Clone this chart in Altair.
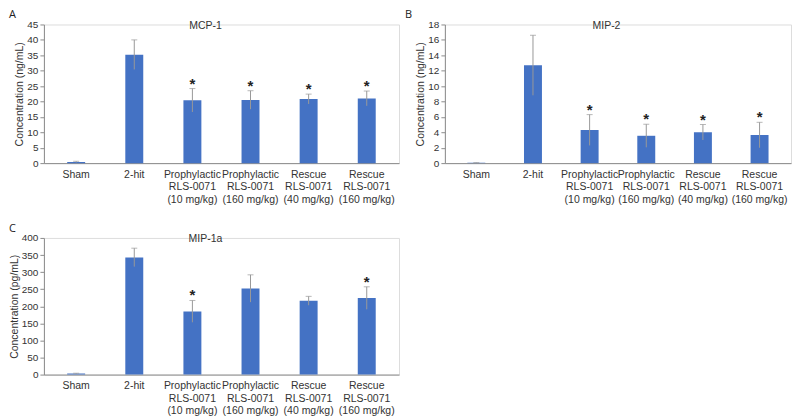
import altair as alt
import pandas as pd

groups = ["Sham", "2-hit", "Prophylactic\nRLS-0071\n(10 mg/kg)", "Prophylactic\nRLS-0071\n(160 mg/kg)",
          "Rescue\nRLS-0071\n(40 mg/kg)", "Rescue\nRLS-0071\n(160 mg/kg)"]

mcp1_mean = [0.4, 35.2, 20.4, 20.5, 20.8, 21.0]
mcp1_err = [0.2, 4.8, 3.8, 3.0, 1.6, 2.4]
mcp1_star = [False, False, True, True, True, True]

mip2_mean = [0.05, 12.7, 4.3, 3.55, 4.0, 3.65]
mip2_err = [0.02, 3.9, 2.0, 1.5, 1.0, 1.65]
mip2_star = [False, False, True, True, True, True]

mip1a_mean = [3, 343, 185, 252, 216, 224]
mip1a_err = [1, 27, 32, 40, 13, 33]
mip1a_star = [False, False, True, False, False, True]

FONT = "Liberation Sans"
BAR = "#4472C4"
AX = "#8c8c8c"
TXT = "#333333"


def panel(letter, title, mean, err, star, ymax, ystep, ytitle, w, h, ty, lx):
    df = pd.DataFrame({
        "g": groups,
        "m": mean,
        "lo": [a - b for a, b in zip(mean, err)],
        "hi": [a + b for a, b in zip(mean, err)],
        "s": ["*" if s else "" for s in star],
    })
    x = alt.X("g:N", sort=groups, title=None,
              scale=alt.Scale(paddingInner=0.69, paddingOuter=0.4),
              axis=alt.Axis(labelAngle=0, labelExpr="split(datum.label, '\\n')",
                            labelFont=FONT, labelFontSize=10.5, labelColor=TXT,
                            labelLineHeight=12.5, ticks=False, domainColor=AX,
                            labelPadding=6, labelBaseline="top"))
    yaxis = alt.Axis(values=list(range(0, ymax + 1, ystep)), grid=False,
                     labelOverlap=False, labelPadding=2,
                     labelFont=FONT, labelFontSize=10, labelColor=TXT,
                     titleFont=FONT, titleFontSize=10.5, titleFontWeight="normal",
                     titleColor=TXT, domainColor=AX, tickColor=AX, tickSize=4,
                     titlePadding=2, title=ytitle)
    yscale = alt.Scale(domain=[0, ymax], nice=False)

    def Y(f):
        return alt.Y(f, type="quantitative", scale=yscale, axis=yaxis)

    base = alt.Chart(df)
    bars = base.mark_bar(color=BAR, size=18).encode(x=x, y=Y("m"))
    rule = base.mark_rule(color="#999999", strokeWidth=1).encode(
        x=alt.X("g:N", sort=groups), y=Y("lo"), y2="hi:Q")
    cap = base.mark_tick(color="#999999", thickness=1, size=6).encode(
        x=alt.X("g:N", sort=groups), y=Y("hi"))
    stars = base.mark_text(font=FONT, fontSize=15, fontWeight="bold", color="#222222",
                           baseline="bottom", dy=3).encode(
        x=alt.X("g:N", sort=groups), y=Y("hi"), text="s:N")
    ttl = alt.Chart(pd.DataFrame({"t": [title]})).mark_text(
        font=FONT, fontSize=10.5, color=TXT, baseline="top").encode(
        x=alt.value(162), y=alt.value(ty), text="t:N")
    lab = alt.Chart(pd.DataFrame({"t": [letter]})).mark_text(
        font="Open Sans", fontSize=11, color="#222222", align="left", baseline="top").encode(
        x=alt.value(lx), y=alt.value(-15), text="t:N")
    return alt.layer(bars, rule, cap, stars, ttl, lab).properties(width=w, height=h)


a = panel("A", "MCP-1", mcp1_mean, mcp1_err, mcp1_star, 45, 5, "Concentration (ng/mL)", 356, 139, -3, -35)
b = panel("B", "MIP-2", mip2_mean, mip2_err, mip2_star, 18, 2, "Concentration (ng/mL)", 347, 139, -3, -40)
c = panel("C", "MIP-1a", mip1a_mean, mip1a_err, mip1a_star, 400, 50, "Concentration (pg/mL)", 356, 137, -4, -35)

chart = alt.vconcat(alt.hconcat(a, b, spacing=4), c, spacing=17).configure_view(
    stroke=None).configure(padding={"left": 0, "top": 0, "right": 0, "bottom": 0})

chart.save("out.html", embed_options={"renderer": "svg", "actions": False})
